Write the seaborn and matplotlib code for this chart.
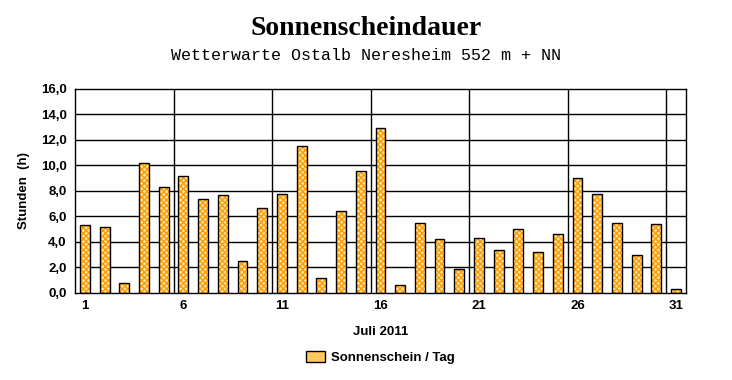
import numpy as np
import pandas as pd
import matplotlib
matplotlib.use("Agg")
import matplotlib.pyplot as plt
from matplotlib.patches import Rectangle
from matplotlib.ticker import FuncFormatter
import seaborn as sns

days = list(range(1, 32))
sunshine = [5.3, 5.2, 0.8, 10.2, 8.3, 9.2, 7.4, 7.7, 2.5, 6.7,
            7.8, 11.5, 1.2, 6.4, 9.6, 12.9, 0.6, 5.5, 4.2, 1.9,
            4.3, 3.4, 5.0, 3.2, 4.6, 9.0, 7.8, 5.5, 3.0, 5.4, 0.3]
tick_days = [1, 6, 11, 16, 21, 26, 31]
y_ticks = [0, 2, 4, 6, 8, 10, 12, 14, 16]

df = pd.DataFrame({"Tag": days, "Stunden": sunshine})

sns.set_style("white")
plt.rcParams["font.family"] = ["Liberation Sans", "DejaVu Sans"]
plt.rcParams["text.color"] = "black"
plt.rcParams["axes.labelcolor"] = "black"
plt.rcParams["xtick.color"] = "black"
plt.rcParams["ytick.color"] = "black"

fig = plt.figure(figsize=(7.32, 3.8), dpi=100)
ax = fig.add_axes([0.1025, 0.229, 0.8345, 0.537])

sns.barplot(data=df, x="Tag", y="Stunden", ax=ax, width=0.5,
            color="#FFE7A8", saturation=1, linewidth=0)

# checker pattern + black outline
for p in list(ax.patches):
    p.set_hatch("xxxxxx")
    p.set_edgecolor("#FF9A00")
    p.set_linewidth(0)
    ax.add_patch(Rectangle(p.get_xy(), p.get_width(), p.get_height(),
                           fill=False, edgecolor="black", linewidth=1.0, zorder=3))

ax.set_ylim(0, 16)
ax.set_xlim(-0.5, len(days) - 0.5)
ax.set_yticks(y_ticks)
ax.yaxis.set_major_formatter(FuncFormatter(lambda v, _: f"{v:.1f}".replace(".", ",")))
for v in y_ticks[1:-1]:
    ax.axhline(v, color="black", linewidth=1.0, zorder=0)
for d in tick_days[1:]:
    ax.axvline(days.index(d) - 0.5, color="black", linewidth=1.0, zorder=0)

ax.set_xticks([days.index(d) for d in tick_days])
ax.set_xticklabels([str(d) for d in tick_days])
ax.set_xticks(np.arange(-0.5, len(days), 1.0), minor=True)
ax.tick_params(axis="x", which="major", length=0, pad=5, labelsize=9.5)
ax.tick_params(axis="x", which="minor", length=4, width=1, color="black", direction="out")
ax.tick_params(axis="y", length=4, width=1, color="black", direction="out", pad=2, labelsize=9.5)
for lab in ax.get_xticklabels() + ax.get_yticklabels():
    lab.set_fontweight("bold")

for s in ax.spines.values():
    s.set_color("black")
    s.set_linewidth(1.0)

ax.set_xlabel("Juli 2011", fontsize=9.5, fontweight="bold", labelpad=10)
ax.set_ylabel("Stunden  (h)", fontsize=9.5, fontweight="bold", labelpad=8)

fig.text(0.5, 0.925, "Sonnenscheindauer", ha="center", va="center",
         fontsize=20, fontweight="bold", family=["Liberation Serif", "DejaVu Serif"])
fig.text(0.5, 0.855, "Wetterwarte Ostalb Neresheim 552 m + NN", ha="center", va="center",
         fontsize=12, family=["Liberation Mono", "DejaVu Sans Mono"])

handle = Rectangle((0, 0), 1, 1, facecolor="#FFC860", edgecolor="black", linewidth=1)
fig.legend([handle], ["Sonnenschein / Tag"], loc="center", bbox_to_anchor=(0.52, 0.06),
           frameon=False, prop={"weight": "bold", "size": 9.5},
           handlelength=1.4, handleheight=0.9, handletextpad=0.5)

fig.savefig("out.png", dpi=100)
